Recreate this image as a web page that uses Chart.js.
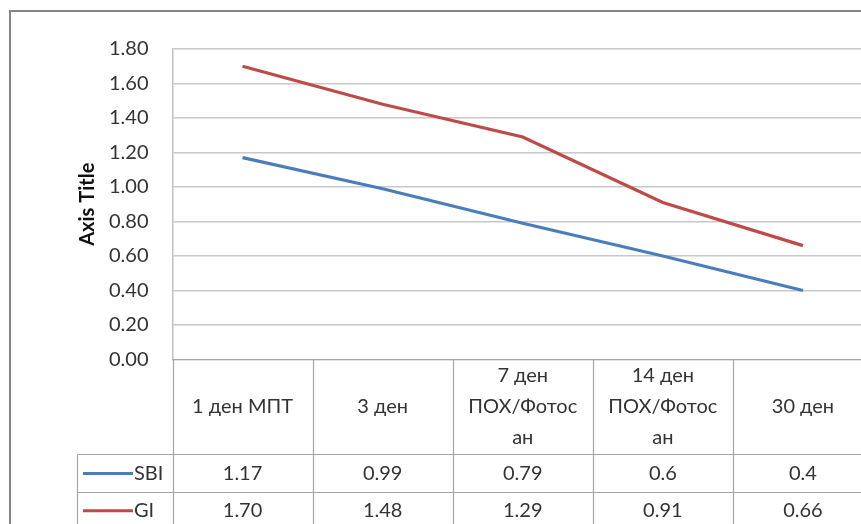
<!DOCTYPE html>
<html>
<head>
<meta charset="utf-8">
<script src="https://cdn.jsdelivr.net/npm/chart.js@4.4.0/dist/chart.umd.min.js"></script>
<style>
html,body{margin:0;padding:0;background:#fff;overflow:hidden;width:861px;height:524px;}
#wrap{position:absolute;left:0;top:0;width:885px;height:540px;}
</style>
</head>
<body>
<div id="wrap"><canvas id="c" width="885" height="540"></canvas></div>
<script>
const categories = [["1 ден МПТ"], ["3 ден"], ["7 ден", "ПОХ/Фотос", "ан"], ["14 ден", "ПОХ/Фотос", "ан"], ["30 ден"]];
const sbiValues = [1.17, 0.99, 0.79, 0.6, 0.4];
const giValues = [1.70, 1.48, 1.29, 0.91, 0.66];
const sbiLabels = ["1.17", "0.99", "0.79", "0.6", "0.4"];
const giLabels = ["1.70", "1.48", "1.29", "0.91", "0.66"];
const seriesNames = ["SBI", "GI"];
const yTicks = {min: 0, max: 1.8, step: 0.2};

const FONT = 'Lato, "Open Sans", "Noto Sans", sans-serif';
const TEXT = '#333333';
const BLUE = '#4a7ebb';
const RED = '#be4b48';
const BORDER = '#a6a6a6';

const tablePlugin = {
  id: 'tablePlugin',
  beforeDraw(chart) {
    const ctx = chart.ctx;
    ctx.save();
    ctx.fillStyle = '#fff';
    ctx.fillRect(0, 0, chart.width, chart.height);
    ctx.strokeStyle = '#858585';
    ctx.lineWidth = 2;
    ctx.strokeRect(10, 11, chart.width + 50, chart.height + 50);
    ctx.restore();
  },
  afterDraw(chart) {
    const ctx = chart.ctx;
    const a = chart.chartArea;
    const xs = chart.scales.x;
    const n = categories.length;
    const cw = (a.right - a.left) / n;
    const headTop = a.bottom;
    const headBot = 454.5;
    const r1Bot = 492.5;
    const r2Bot = 531;
    const legLeft = 77.5;
    ctx.save();
    ctx.strokeStyle = BORDER;
    ctx.lineWidth = 1.2;
    ctx.beginPath();
    for (let i = 0; i <= n; i++) {
      const x = Math.round(a.left + i * cw) + 0.5;
      ctx.moveTo(x, headTop); ctx.lineTo(x, r2Bot);
    }
    ctx.moveTo(legLeft, headBot); ctx.lineTo(legLeft, r2Bot);
    ctx.moveTo(a.left, headTop); ctx.lineTo(a.right, headTop);
    ctx.moveTo(legLeft, headBot); ctx.lineTo(a.right, headBot);
    ctx.moveTo(legLeft, r1Bot); ctx.lineTo(a.right, r1Bot);
    ctx.moveTo(legLeft, r2Bot); ctx.lineTo(a.right, r2Bot);
    ctx.stroke();

    ctx.fillStyle = TEXT;
    ctx.font = '20px ' + FONT;
    ctx.textAlign = 'center';
    ctx.textBaseline = 'middle';
    const lh = 31;
    const hc = (headTop + headBot) / 2;
    for (let i = 0; i < n; i++) {
      const cx = xs.getPixelForValue(i);
      const lines = categories[i];
      const start = hc - (lines.length - 1) * lh / 2;
      lines.forEach((t, k) => ctx.fillText(t, cx, start + k * lh));
      ctx.fillText(sbiLabels[i], cx, (headBot + r1Bot) / 2);
      ctx.fillText(giLabels[i], cx, (r1Bot + r2Bot) / 2 - 1);
    }
    const rows = [[(headBot + r1Bot) / 2, BLUE, seriesNames[0]], [(r1Bot + r2Bot) / 2 - 1, RED, seriesNames[1]]];
    rows.forEach(([y, col, name]) => {
      ctx.strokeStyle = col;
      ctx.lineWidth = 3;
      ctx.beginPath();
      ctx.moveTo(83, y); ctx.lineTo(133, y);
      ctx.stroke();
      ctx.textAlign = 'left';
      ctx.fillText(name, 134, y);
    });
    ctx.restore();
  }
};

new Chart(document.getElementById('c'), {
  type: 'line',
  data: {
    labels: categories.map(c => c.join(' ')),
    datasets: [
      {label: seriesNames[0], data: sbiValues, borderColor: BLUE, backgroundColor: BLUE, borderWidth: 3.2, pointRadius: 0, tension: 0},
      {label: seriesNames[1], data: giValues, borderColor: RED, backgroundColor: RED, borderWidth: 3.2, pointRadius: 0, tension: 0}
    ]
  },
  options: {
    responsive: false,
    animation: false,
    devicePixelRatio: 1,
    layout: {padding: {left: 0, right: 12, top: 49, bottom: 540 - 359.5}},
    plugins: {legend: {display: false}, tooltip: {enabled: false}},
    scales: {
      x: {
        type: 'category',
        offset: true,
        display: false,
        grid: {display: false}
      },
      y: {
        min: yTicks.min,
        max: yTicks.max,
        afterFit(scale) { scale.width = 172.5; },
        ticks: {
          stepSize: yTicks.step,
          padding: 24,
          color: TEXT,
          font: {family: FONT, size: 20},
          callback: v => Number(v).toFixed(2)
        },
        grid: {color: '#c8c8c8', lineWidth: 1.5, drawTicks: false},
        border: {display: true, color: '#c0c0c0', width: 1.5},
        title: {
          display: true,
          text: 'Axis Title',
          color: '#111',
          font: {family: FONT, size: 20, weight: 'bold'},
          padding: {top: 76, bottom: 0}
        }
      }
    }
  },
  plugins: [tablePlugin]
});
</script>
</body>
</html>
